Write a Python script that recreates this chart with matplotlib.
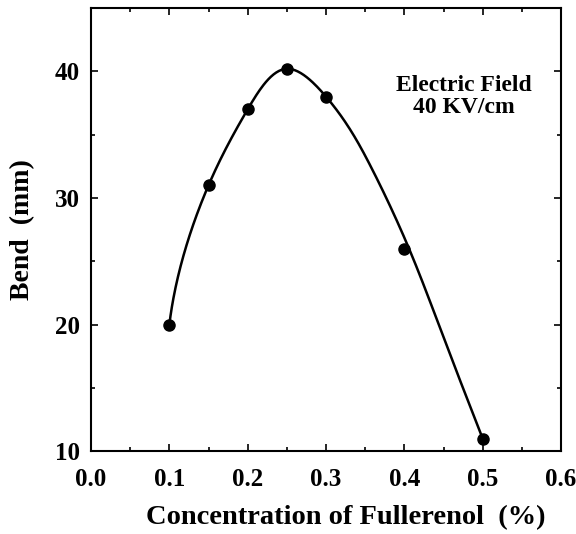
import numpy as np
import matplotlib
matplotlib.use("Agg")
import matplotlib.pyplot as plt
from matplotlib.ticker import MultipleLocator, FormatStrFormatter

plt.rcParams['font.family'] = ['Liberation Serif', 'DejaVu Serif']
plt.rcParams['font.weight'] = 'bold'

# measured points
conc = [0.10, 0.15, 0.20, 0.25, 0.30, 0.40, 0.50]
bend = [20.0, 31.0, 37.0, 40.2, 38.0, 26.0, 11.0]
# hand-drawn smooth curve through the data
curve_x = [0.10, 0.15, 0.20, 0.25, 0.30, 0.357, 0.408, 0.45, 0.50]
curve_y = [20.0, 31.0, 37.0, 40.2, 38.0, 32.5, 25.7, 19.0, 11.0]


def spline_coeffs(t, y, d0):
    # cubic spline: clamped slope d0 at start, natural at end
    t = np.asarray(t, float)
    y = np.asarray(y, float)
    n = len(t)
    h = np.diff(t)
    A = np.zeros((n, n))
    r = np.zeros(n)
    A[0, 0], A[0, 1] = 2 * h[0], h[0]
    r[0] = 3 * ((y[1] - y[0]) / h[0] - d0)
    A[-1, -1] = 1.0
    for i in range(1, n - 1):
        A[i, i - 1] = h[i - 1]
        A[i, i] = 2 * (h[i - 1] + h[i])
        A[i, i + 1] = h[i]
        r[i] = 3 * ((y[i + 1] - y[i]) / h[i] - (y[i] - y[i - 1]) / h[i - 1])
    c = np.linalg.solve(A, r)
    b = (y[1:] - y[:-1]) / h - h * (2 * c[:-1] + c[1:]) / 3
    d = (c[1:] - c[:-1]) / (3 * h)
    return t, y, b, c, d


def spline_eval(coef, ts):
    t, y, b, c, d = coef
    idx = np.clip(np.searchsorted(t, ts) - 1, 0, len(t) - 2)
    s = ts - t[idx]
    return y[idx] + b[idx] * s + c[idx] * s ** 2 + d[idx] * s ** 3


# parametric curve in screen-proportional units, chord-length parameter
sx, sy = 0.6, 35 * 470 / 444
u = np.asarray(curve_x) / sx
v = np.asarray(curve_y) / sy
tk = np.concatenate([[0], np.cumsum(np.hypot(np.diff(u), np.diff(v)))])
start_dir = np.array([0.12, 1.0]) / np.hypot(0.12, 1.0)
ts = np.linspace(0, tk[-1], 400)
xs = spline_eval(spline_coeffs(tk, u, start_dir[0]), ts) * sx
ys = spline_eval(spline_coeffs(tk, v, start_dir[1]), ts) * sy

fig = plt.figure(figsize=(5.76, 5.34), dpi=100)
ax = fig.add_axes([0.158, 0.155, 0.816, 0.830])

ax.plot(xs, ys, color='black', lw=1.8)
ax.plot(conc, bend, 'o', color='black', markersize=8)

ax.set_xlim(0.0, 0.6)
ax.set_ylim(10, 45)
ax.xaxis.set_major_locator(MultipleLocator(0.1))
ax.xaxis.set_minor_locator(MultipleLocator(0.05))
ax.yaxis.set_major_locator(MultipleLocator(10))
ax.yaxis.set_minor_locator(MultipleLocator(5))
ax.xaxis.set_major_formatter(FormatStrFormatter('%.1f'))
ax.tick_params(which='both', direction='in', top=True, right=True, width=1.2)
ax.tick_params(which='major', length=5, labelsize=18, pad=8)
ax.tick_params(axis='x', which='major', pad=12)
ax.tick_params(which='minor', length=3)
for s in ax.spines.values():
    s.set_linewidth(1.5)

ax.set_xlabel('Concentration of Fullerenol  (%)', fontsize=20.5, fontweight='bold',
              labelpad=10, x=0.543)
ax.set_ylabel('Bend  (mm)', fontsize=20, fontweight='bold', labelpad=14)

ax.text(0.476, 38.0, 'Electric Field\n40 KV/cm', fontsize=17, fontweight='bold',
        ha='center', va='center', linespacing=1.05)

fig.savefig('out.png', dpi=100)
